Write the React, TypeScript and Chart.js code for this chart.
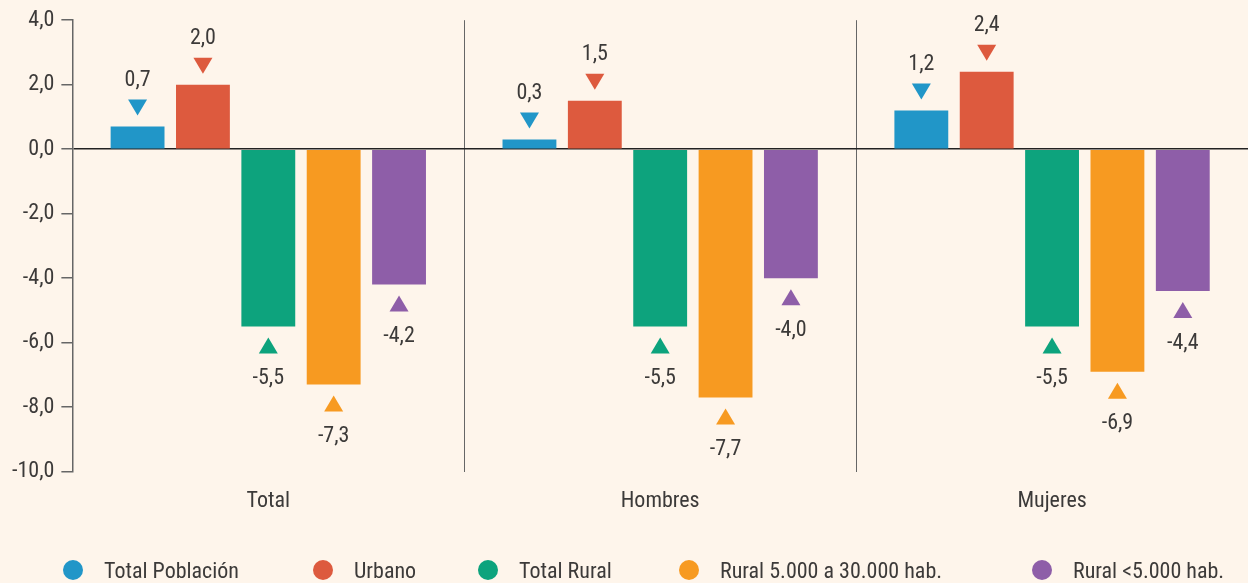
import React, { useEffect, useRef } from "react";
import { Chart, registerables } from "chart.js";

Chart.register(...registerables);

const categories = ["Total", "Hombres", "Mujeres"];
const seriesNames = [
  "Total Población",
  "Urbano",
  "Total Rural",
  "Rural 5.000 a 30.000 hab.",
  "Rural <5.000 hab.",
];
const totalPoblacion = [0.7, 0.3, 1.2];
const urbano = [2.0, 1.5, 2.4];
const totalRural = [-5.5, -5.5, -5.5];
const rural5a30 = [-7.3, -7.7, -6.9];
const ruralMenos5 = [-4.2, -4.0, -4.4];
const yTicks = [4, 2, 0, -2, -4, -6, -8, -10];

const seriesValues = [totalPoblacion, urbano, totalRural, rural5a30, ruralMenos5];
const colors = ["#2196C8", "#DD5A3E", "#0DA37D", "#F79A21", "#8E5EA8"];
const legendX = [73, 323, 488, 689, 1042];

const FONT = "'Roboto Condensed', 'Liberation Sans Narrow', 'Roboto', sans-serif";
const TEXT = "#3c3a39";
const BG = "#FEF5EB";
const FS = 22;

const fmt = (v: number) => v.toFixed(1).replace(".", ",");

const markerPlugin = {
  id: "markers",
  afterDatasetsDraw(chart: any) {
    const ctx = chart.ctx;
    ctx.save();
    chart.data.datasets.forEach((ds: any, di: number) => {
      const meta = chart.getDatasetMeta(di);
      meta.data.forEach((el: any, i: number) => {
        const v = ds.data[i];
        const x = el.x;
        const y = el.y;
        ctx.fillStyle = ds.backgroundColor;
        ctx.beginPath();
        const w = 9.5;
        if (v >= 0) {
          ctx.moveTo(x - w, y - 27);
          ctx.lineTo(x + w, y - 27);
          ctx.lineTo(x, y - 11);
        } else {
          ctx.moveTo(x - w, y + 27);
          ctx.lineTo(x + w, y + 27);
          ctx.lineTo(x, y + 11);
        }
        ctx.closePath();
        ctx.fill();
        ctx.fillStyle = TEXT;
        ctx.font = `${FS}px ${FONT}`;
        ctx.textAlign = "center";
        ctx.textBaseline = "middle";
        ctx.fillText(fmt(v), x, v >= 0 ? y - 46 : y + 52);
      });
    });
    ctx.restore();
  },
};

export default function App() {
  const ref = useRef<HTMLCanvasElement>(null);
  useEffect(() => {
    if (!ref.current) return;
    const chart = new Chart(ref.current, {
      type: "bar",
      data: {
        labels: categories,
        datasets: seriesNames.map((name, i) => ({
          label: name,
          data: seriesValues[i],
          backgroundColor: colors[i],
          borderWidth: 0,
          categoryPercentage: 0.834,
          barPercentage: 0.824,
        })),
      },
      options: {
        responsive: false,
        animation: false,
        maintainAspectRatio: false,
        layout: { padding: { top: 15, left: 5, right: 0, bottom: 51 } },
        plugins: {
          legend: { display: false },
          tooltip: { enabled: false },
        },
        scales: {
          x: {
            grid: {
              display: true,
              offset: true,
              drawTicks: false,
              color: "#666",
              lineWidth: 1,
            },
            border: { display: false },
            ticks: {
              color: TEXT,
              font: { family: FONT, size: FS },
              padding: 17,
            },
          },
          y: {
            min: -10,
            max: 4,
            afterBuildTicks: (scale: any) => {
              scale.ticks = yTicks.map((v) => ({ value: v }));
            },
            grid: {
              color: (c: any) => (c.tick && c.tick.value === 0 ? "#222" : "rgba(0,0,0,0)"),
              tickColor: "#666",
              tickLength: 11,
              lineWidth: 1.5,
            },
            border: { display: true, color: "#666", width: 1.5 },
            ticks: {
              color: TEXT,
              font: { family: FONT, size: FS },
              padding: 7,
              callback: (v: any) => fmt(Number(v)),
            },
          },
        },
      },
      plugins: [markerPlugin],
    });
    return () => chart.destroy();
  }, []);

  return (
    <div
      style={{
        position: "fixed",
        left: 0,
        top: 0,
        width: 1248,
        height: 583,
        background: BG,
        overflow: "hidden",
      }}
    >
      <canvas ref={ref} width={1248} height={583} style={{ display: "block" }} />
      {seriesNames.map((name, i) => (
        <div
          key={name}
          style={{
            position: "absolute",
            left: legendX[i] - 10,
            top: 557,
            height: 26,
            display: "flex",
            alignItems: "center",
            whiteSpace: "nowrap",
            fontFamily: FONT,
            fontSize: FS,
            color: TEXT,
          }}
        >
          <span
            style={{
              display: "inline-block",
              width: 20,
              height: 20,
              borderRadius: "50%",
              background: colors[i],
              marginRight: 21,
            }}
          />
          {name}
        </div>
      ))}
    </div>
  );
}
